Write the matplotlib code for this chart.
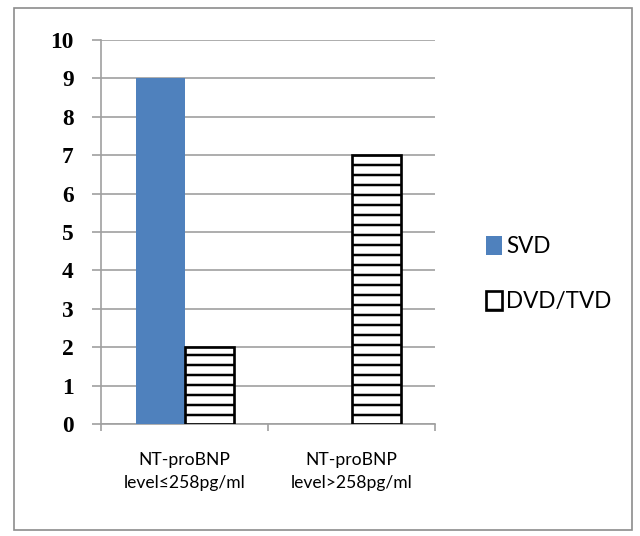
import numpy as np
import matplotlib
matplotlib.use("Agg")
import matplotlib.pyplot as plt
from matplotlib.patches import Rectangle, Patch

# counts per NT-proBNP group
categories = ["NT-proBNP\nlevel\u2264258pg/ml", "NT-proBNP\nlevel>258pg/ml"]
svd = [9, 0]
dvd_tvd = [2, 7]
series_names = ["SVD", "DVD/TVD"]
yticks = list(range(0, 11))

DPI = 120
plt.rcParams['hatch.linewidth'] = 1.5
plt.rcParams['hatch.color'] = 'black'

fig = plt.figure(figsize=(640 / DPI, 536 / DPI), dpi=DPI)
ax = fig.add_axes([101 / 640, 1 - 424 / 536, 334 / 640, 384 / 536])

grey = '#a0a0a0'
x = np.arange(len(categories))
w = 0.29
ax.bar(x - 0.145, svd, width=w, color='#4f81bd', label=series_names[0], zorder=3)
ax.bar(x + 0.15, dvd_tvd, width=w, color='white', edgecolor='black', linewidth=1.6,
       hatch='--', label=series_names[1], zorder=3)

ax.set_xlim(-0.5, 1.5)
ax.set_ylim(0, 10)
ax.set_yticks(yticks)
ax.yaxis.grid(True, color=grey, linewidth=1.0, zorder=0)
ax.set_axisbelow(True)

for side in ['top', 'right']:
    ax.spines[side].set_visible(False)
for side in ['left', 'bottom']:
    ax.spines[side].set_color(grey)
    ax.spines[side].set_linewidth(1.0)

ax.tick_params(axis='y', direction='out', length=5.4, width=1.0, color=grey, pad=11,
               labelsize=14)
for lab in ax.get_yticklabels():
    lab.set_fontfamily('Liberation Serif')
    lab.set_fontweight('bold')

ax.set_xticks(x)
ax.set_xticklabels(categories, fontfamily='Lato', fontsize=10.5, linespacing=1.55)
ax.set_xticks([-0.5, 0.5, 1.5], minor=True)
ax.tick_params(axis='x', which='major', length=0, pad=17)
ax.tick_params(axis='x', which='minor', direction='out', length=4.2, width=1.0, color=grey)

handles = [Patch(facecolor='#4f81bd', edgecolor='none'),
           Patch(facecolor='white', edgecolor='black', linewidth=1.6, hatch='-')]
leg = fig.legend(handles, series_names, loc='center left',
                 bbox_to_anchor=(466 / 640, 1 - 274 / 536), frameon=False,
                 prop={'family': 'Lato', 'size': 13.5}, handlelength=0.7, handleheight=0.9,
                 handletextpad=0.2, labelspacing=1.5)

# outer chart frame
fig.patches.append(Rectangle((14 / 640, 1 - 530 / 536), 618 / 640, 522 / 536,
                             transform=fig.transFigure, fill=False,
                             edgecolor='#8c8c8c', linewidth=1.0))

fig.savefig('out.png', dpi=DPI, facecolor='white')
